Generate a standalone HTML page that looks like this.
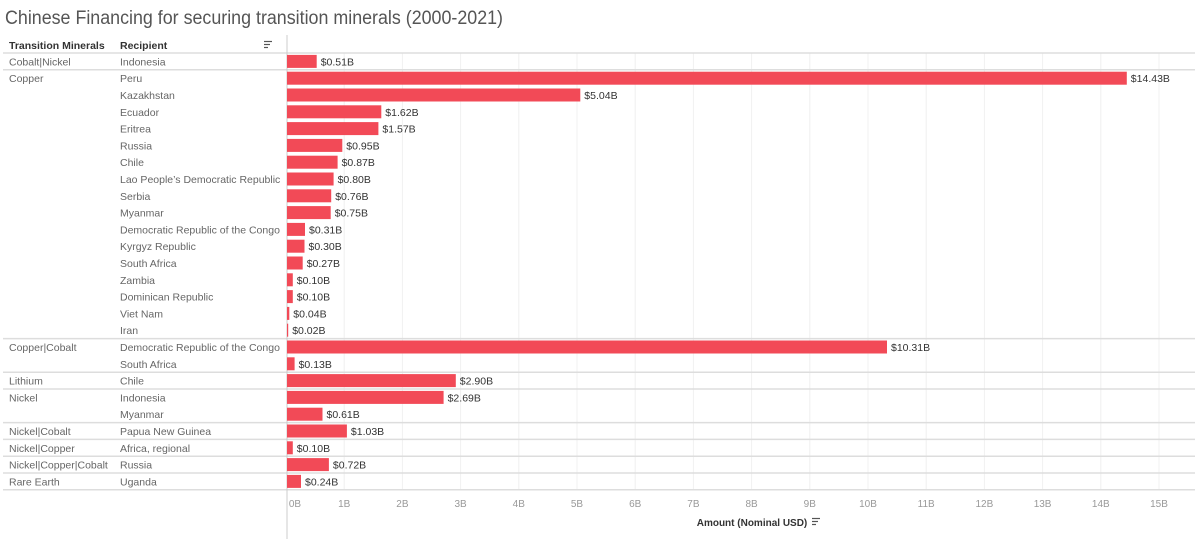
<!DOCTYPE html>
<html><head><meta charset="utf-8"><style>
html,body{margin:0;padding:0;background:#fff;}
svg{display:block;font-family:"Liberation Sans",sans-serif;}
.l{font-size:10.5px;fill:#666;}
.v{font-size:10.5px;fill:#333;}
.t{font-size:10px;fill:#999;text-anchor:middle;}
</style></head><body>
<svg width="1200" height="539" viewBox="0 0 1200 539">
<text x="5" y="24" font-size="19" fill="#555" textLength="498" lengthAdjust="spacingAndGlyphs">Chinese Financing for securing transition minerals (2000-2021)</text>
<text x="9" y="49" font-size="10.5" font-weight="bold" fill="#333">Transition Minerals</text>
<text x="120" y="49" font-size="10.5" font-weight="bold" fill="#333">Recipient</text>
<g stroke="#555" stroke-width="1.2"><line x1="264" y1="41.5" x2="272" y2="41.5"/><line x1="264" y1="44.5" x2="270" y2="44.5"/><line x1="264" y1="47.5" x2="268" y2="47.5"/></g>
<!-- gridlines -->
<g stroke="#f0f0f0" stroke-width="1">
<line x1="344.2" y1="53" x2="344.2" y2="490"/><line x1="402.4" y1="53" x2="402.4" y2="490"/><line x1="460.6" y1="53" x2="460.6" y2="490"/><line x1="518.8" y1="53" x2="518.8" y2="490"/><line x1="577" y1="53" x2="577" y2="490"/><line x1="635.2" y1="53" x2="635.2" y2="490"/><line x1="693.4" y1="53" x2="693.4" y2="490"/><line x1="751.6" y1="53" x2="751.6" y2="490"/><line x1="809.8" y1="53" x2="809.8" y2="490"/><line x1="868" y1="53" x2="868" y2="490"/><line x1="926.2" y1="53" x2="926.2" y2="490"/><line x1="984.4" y1="53" x2="984.4" y2="490"/><line x1="1042.6" y1="53" x2="1042.6" y2="490"/><line x1="1100.8" y1="53" x2="1100.8" y2="490"/><line x1="1159" y1="53" x2="1159" y2="490"/>
</g>
<g stroke="#ddd" stroke-width="1.5">
<line x1="3" y1="53" x2="1195" y2="53"/><line x1="3" y1="69.8" x2="1195" y2="69.8"/><line x1="3" y1="338.6" x2="1195" y2="338.6"/><line x1="3" y1="372.2" x2="1195" y2="372.2"/><line x1="3" y1="389" x2="1195" y2="389"/><line x1="3" y1="422.6" x2="1195" y2="422.6"/><line x1="3" y1="439.4" x2="1195" y2="439.4"/><line x1="3" y1="456.2" x2="1195" y2="456.2"/><line x1="3" y1="473" x2="1195" y2="473"/><line x1="3" y1="489.8" x2="1195" y2="489.8"/>
</g>
<line x1="287" y1="35" x2="287" y2="539" stroke="#ccc" stroke-width="1"/>
<!-- mineral labels -->
<g class="l">
<text x="9" y="65.4">Cobalt|Nickel</text>
<text x="9" y="82.2">Copper</text>
<text x="9" y="351">Copper|Cobalt</text>
<text x="9" y="384.6">Lithium</text>
<text x="9" y="401.4">Nickel</text>
<text x="9" y="435">Nickel|Cobalt</text>
<text x="9" y="451.8">Nickel|Copper</text>
<text x="9" y="468.6">Nickel|Copper|Cobalt</text>
<text x="9" y="485.4">Rare Earth</text>
</g>
<g class="l">
<text x="120" y="65.4">Indonesia</text>
<text x="120" y="82.2">Peru</text>
<text x="120" y="99">Kazakhstan</text>
<text x="120" y="115.8">Ecuador</text>
<text x="120" y="132.6">Eritrea</text>
<text x="120" y="149.4">Russia</text>
<text x="120" y="166.2">Chile</text>
<text x="120" y="183">Lao People’s Democratic Republic</text>
<text x="120" y="199.8">Serbia</text>
<text x="120" y="216.6">Myanmar</text>
<text x="120" y="233.4">Democratic Republic of the Congo</text>
<text x="120" y="250.2">Kyrgyz Republic</text>
<text x="120" y="267">South Africa</text>
<text x="120" y="283.8">Zambia</text>
<text x="120" y="300.6">Dominican Republic</text>
<text x="120" y="317.4">Viet Nam</text>
<text x="120" y="334.2">Iran</text>
<text x="120" y="351">Democratic Republic of the Congo</text>
<text x="120" y="367.8">South Africa</text>
<text x="120" y="384.6">Chile</text>
<text x="120" y="401.4">Indonesia</text>
<text x="120" y="418.2">Myanmar</text>
<text x="120" y="435">Papua New Guinea</text>
<text x="120" y="451.8">Africa, regional</text>
<text x="120" y="468.6">Russia</text>
<text x="120" y="485.4">Uganda</text>
</g>
<g fill="#f24a57">
<rect x="287" y="54.9" width="29.7" height="13"/>
<rect x="287" y="71.7" width="839.8" height="13"/>
<rect x="287" y="88.5" width="293.3" height="13"/>
<rect x="287" y="105.3" width="94.3" height="13"/>
<rect x="287" y="122.1" width="91.4" height="13"/>
<rect x="287" y="138.9" width="55.3" height="13"/>
<rect x="287" y="155.7" width="50.6" height="13"/>
<rect x="287" y="172.5" width="46.6" height="13"/>
<rect x="287" y="189.3" width="44.2" height="13"/>
<rect x="287" y="206.1" width="43.7" height="13"/>
<rect x="287" y="222.9" width="18" height="13"/>
<rect x="287" y="239.7" width="17.5" height="13"/>
<rect x="287" y="256.5" width="15.7" height="13"/>
<rect x="287" y="273.3" width="5.8" height="13"/>
<rect x="287" y="290.1" width="5.8" height="13"/>
<rect x="287" y="306.9" width="2.3" height="13"/>
<rect x="287" y="323.7" width="1.2" height="13"/>
<rect x="287" y="340.5" width="600" height="13"/>
<rect x="287" y="357.3" width="7.6" height="13"/>
<rect x="287" y="374.1" width="168.8" height="13"/>
<rect x="287" y="390.9" width="156.6" height="13"/>
<rect x="287" y="407.7" width="35.5" height="13"/>
<rect x="287" y="424.5" width="59.9" height="13"/>
<rect x="287" y="441.3" width="5.8" height="13"/>
<rect x="287" y="458.1" width="41.9" height="13"/>
<rect x="287" y="474.9" width="14" height="13"/>
</g>
<g class="v">
<text x="320.7" y="65.4">$0.51B</text>
<text x="1130.8" y="82.2">$14.43B</text>
<text x="584.3" y="99">$5.04B</text>
<text x="385.3" y="115.8">$1.62B</text>
<text x="382.4" y="132.6">$1.57B</text>
<text x="346.3" y="149.4">$0.95B</text>
<text x="341.6" y="166.2">$0.87B</text>
<text x="337.6" y="183">$0.80B</text>
<text x="335.2" y="199.8">$0.76B</text>
<text x="334.7" y="216.6">$0.75B</text>
<text x="309" y="233.4">$0.31B</text>
<text x="308.5" y="250.2">$0.30B</text>
<text x="306.7" y="267">$0.27B</text>
<text x="296.8" y="283.8">$0.10B</text>
<text x="296.8" y="300.6">$0.10B</text>
<text x="293.3" y="317.4">$0.04B</text>
<text x="292.2" y="334.2">$0.02B</text>
<text x="891" y="351">$10.31B</text>
<text x="298.6" y="367.8">$0.13B</text>
<text x="459.8" y="384.6">$2.90B</text>
<text x="447.6" y="401.4">$2.69B</text>
<text x="326.5" y="418.2">$0.61B</text>
<text x="350.9" y="435">$1.03B</text>
<text x="296.8" y="451.8">$0.10B</text>
<text x="332.9" y="468.6">$0.72B</text>
<text x="305" y="485.4">$0.24B</text>
</g>
<g class="t">
<text x="295" y="507">0B</text><text x="344.2" y="507">1B</text><text x="402.4" y="507">2B</text><text x="460.6" y="507">3B</text><text x="518.8" y="507">4B</text><text x="577" y="507">5B</text><text x="635.2" y="507">6B</text><text x="693.4" y="507">7B</text><text x="751.6" y="507">8B</text><text x="809.8" y="507">9B</text><text x="868" y="507">10B</text><text x="926.2" y="507">11B</text><text x="984.4" y="507">12B</text><text x="1042.6" y="507">13B</text><text x="1100.8" y="507">14B</text><text x="1159" y="507">15B</text>
</g>
<text x="752" y="526" font-size="10" font-weight="bold" fill="#333" text-anchor="middle">Amount (Nominal USD)</text>
<g stroke="#555" stroke-width="1.2"><line x1="812" y1="518.5" x2="820" y2="518.5"/><line x1="812" y1="521.5" x2="818" y2="521.5"/><line x1="812" y1="524.5" x2="816" y2="524.5"/></g>
</svg>
</body></html>
